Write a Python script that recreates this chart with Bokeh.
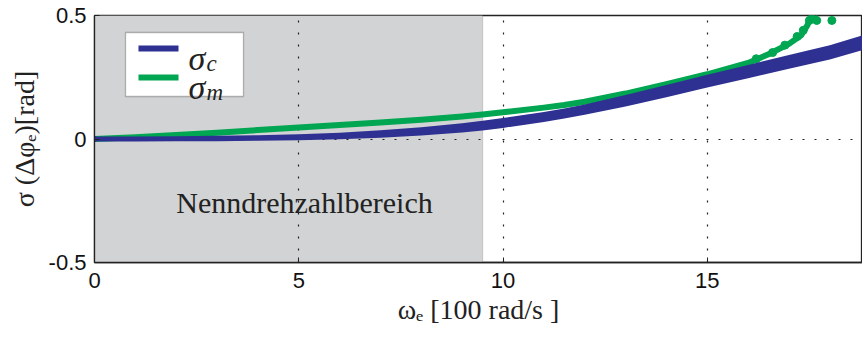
import numpy as np
from bokeh.plotting import figure
from bokeh.models import Range1d, FixedTicker, BoxAnnotation, Label
from bokeh.embed import file_html
from bokeh.resources import INLINE

# ---- data ----
omega = [0, 1, 2, 3, 4, 5, 6, 7, 8, 9, 9.5, 10, 11, 11.5, 12, 13, 14, 15, 16, 17, 18, 18.8]
sigma_c = [0.0, 0.0, 0.001, 0.002, 0.004, 0.007, 0.012, 0.020, 0.031, 0.045, 0.054, 0.065,
           0.089, 0.103, 0.119, 0.155, 0.194, 0.234, 0.273, 0.312, 0.351, 0.390]
sigma_c_spread = [0.010, 0.010, 0.010, 0.011, 0.011, 0.012, 0.013, 0.015, 0.017, 0.019, 0.020, 0.020,
                  0.020, 0.020, 0.021, 0.023, 0.025, 0.026, 0.027, 0.028, 0.029, 0.030]

omega_m = [0, 1, 2, 3, 4, 5, 6, 7, 8, 9, 9.5, 10, 11, 11.5, 12, 13, 14, 15, 16, 16.5, 17, 17.3, 17.45, 17.55]
sigma_m = [0.0, 0.007, 0.016, 0.025, 0.036, 0.047, 0.057, 0.067, 0.078, 0.091, 0.099, 0.108, 0.127,
           0.138, 0.151, 0.184, 0.222, 0.262, 0.308, 0.343, 0.385, 0.420, 0.460, 0.500]
omega_m_pts = [16.2, 16.6, 16.9, 17.2, 17.35, 17.5, 17.6, 17.68, 18.05]
sigma_m_pts = [0.325, 0.350, 0.380, 0.415, 0.440, 0.480, 0.495, 0.480, 0.480]

nominal_range = [0, 9.5]
x_ticks = [0, 5, 10, 15]
y_ticks = [-0.5, 0, 0.5]
y_tick_labels = {-0.5: "-0.5", 0: "0", 0.5: "0.5"}
region_label = "Nenndrehzahlbereich"

BLUE = "#2e3192"
GREEN = "#00a651"

p = figure(width=862, height=342, output_backend="svg", toolbar_location=None,
           x_range=Range1d(0, 18.8), y_range=Range1d(-0.5, 0.5),
           min_border_left=94, min_border_right=0, min_border_top=15, min_border_bottom=80)
p.background_fill_color = "white"
p.border_fill_color = "white"
p.outline_line_color = "#222222"
p.outline_line_width = 1.3

# shaded nominal speed range (below grid)
p.add_layout(BoxAnnotation(left=nominal_range[0], right=nominal_range[1],
                           fill_color="#d1d3d4", fill_alpha=1.0,
                           line_color="#808080", line_width=1.2, level="image"))

# grid
p.xgrid.ticker = FixedTicker(ticks=[t for t in x_ticks if t != 0])
p.ygrid.ticker = FixedTicker(ticks=[0])
for g in (p.xgrid, p.ygrid):
    g.grid_line_color = "#222222"
    g.grid_line_dash = "2 10"
    g.grid_line_width = 1.2

# curves
p.line(omega_m, sigma_m, line_color=GREEN, line_width=6, line_cap="round", line_join="round")
p.scatter(omega_m_pts, sigma_m_pts, size=8, fill_color=GREEN, line_color=GREEN)
sc = np.array(sigma_c)
ss = np.array(sigma_c_spread)
p.varea(x=omega, y1=list(sc - ss), y2=list(sc + ss), fill_color=BLUE)
p.scatter([omega[0]], [sigma_c[0]], size=5, fill_color=BLUE, line_color=BLUE)

# region label
p.add_layout(Label(x=5.14, y=-0.258, text=region_label, text_align="center",
                   text_baseline="alphabetic", text_font="Liberation Serif",
                   text_font_size="30px", text_color="#222222"))

# legend (custom, to allow subscripts)
def px2x(px):
    return (px - 94) / (768 / 18.8)

def px2y(py):
    return 0.5 - (py - 15) / 247

p.add_layout(BoxAnnotation(left=px2x(125), right=px2x(243), top=px2y(32), bottom=px2y(96),
                           fill_color="white", fill_alpha=1.0,
                           line_color="#222222", line_width=1.3, level="annotation"))
leg_items = [("c", BLUE, 48), ("m", GREEN, 77)]
for sub, col, py in leg_items:
    p.segment(x0=[px2x(138)], y0=[px2y(py)], x1=[px2x(178)], y1=[px2y(py)],
              line_color=col, line_width=6, level="overlay")
    p.add_layout(Label(x=px2x(188), y=px2y(py + 10), text="σ", text_font="Liberation Serif",
                       text_font_style="italic", text_font_size="34px", text_color="#222222",
                       text_baseline="alphabetic", level="overlay"))
    p.add_layout(Label(x=px2x(206), y=px2y(py + 15), text=sub, text_font="Liberation Serif",
                       text_font_style="italic", text_font_size="23px", text_color="#222222",
                       text_baseline="alphabetic", level="overlay"))

# axes
p.xaxis.ticker = FixedTicker(ticks=x_ticks)
p.yaxis.ticker = FixedTicker(ticks=y_ticks)
p.yaxis.major_label_overrides = y_tick_labels
for ax in (p.xaxis, p.yaxis):
    ax.axis_line_color = "#222222"
    ax.axis_line_width = 1.3
    ax.major_tick_in = 5
    ax.major_tick_out = 0
    ax.major_tick_line_color = "#222222"
    ax.minor_tick_line_color = None
    ax.major_label_text_font = "Liberation Sans"
    ax.major_label_text_font_size = "22px"
    ax.major_label_text_color = "#111111"
    ax.axis_label_text_font = "Liberation Serif"
    ax.axis_label_text_font_style = "normal"
    ax.axis_label_text_color = "#222222"
p.xaxis.major_label_standoff = 10
p.yaxis.major_label_standoff = 8
p.xaxis.axis_label = "ωₑ [100 rad/s ]"
p.xaxis.axis_label_text_font_size = "28px"
p.xaxis.axis_label_standoff = 3
p.yaxis.axis_label = "σ (Δφₑ)[rad]"
p.yaxis.axis_label_text_font_size = "28px"
p.yaxis.axis_label_standoff = 6

open("out.html", "w").write(file_html(p, INLINE))
